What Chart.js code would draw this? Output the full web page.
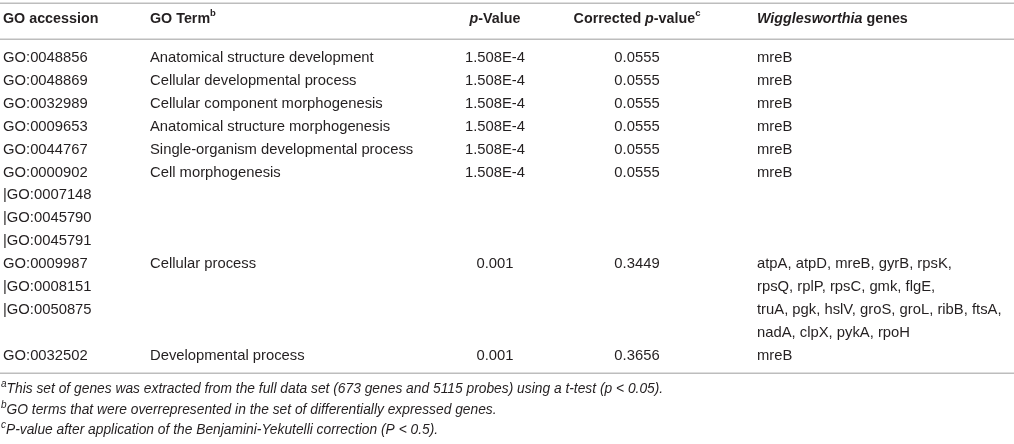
<!DOCTYPE html>
<html>
<head>
<meta charset="utf-8">
<script src="https://cdn.jsdelivr.net/npm/chart.js@4.4.1/dist/chart.umd.min.js"></script>
<style>
  html, body { margin: 0; padding: 0; background: #fff; }
  #wrap { width: 1014px; height: 444px; position: relative; }
</style>
</head>
<body>
<div id="wrap"><canvas id="table"></canvas></div>
<script>
// Table content, one entry per GO term
const accessions = [
  "GO:0048856",
  "GO:0048869",
  "GO:0032989",
  "GO:0009653",
  "GO:0044767",
  "GO:0000902|GO:0007148|GO:0045790|GO:0045791",
  "GO:0009987|GO:0008151|GO:0050875",
  "GO:0032502"
];
const goTerms = [
  "Anatomical structure development",
  "Cellular developmental process",
  "Cellular component morphogenesis",
  "Anatomical structure morphogenesis",
  "Single-organism developmental process",
  "Cell morphogenesis",
  "Cellular process",
  "Developmental process"
];
const pValues = ["1.508E-4", "1.508E-4", "1.508E-4", "1.508E-4", "1.508E-4", "1.508E-4", "0.001", "0.001"];
const correctedPValues = ["0.0555", "0.0555", "0.0555", "0.0555", "0.0555", "0.0555", "0.3449", "0.3656"];
const genes = [
  ["mreB"],
  ["mreB"],
  ["mreB"],
  ["mreB"],
  ["mreB"],
  ["mreB"],
  ["atpA, atpD, mreB, gyrB, rpsK,", "rpsQ, rplP, rpsC, gmk, flgE,", "truA, pgk, hslV, groS, groL, ribB, ftsA,", "nadA, clpX, pykA, rpoH"],
  ["mreB"]
];
const footnotes = [
  ["a", "This set of genes was extracted from the full data set (673 genes and 5115 probes) using a t-test (p < 0.05)."],
  ["b", "GO terms that were overrepresented in the set of differentially expressed genes."],
  ["c", "P-value after application of the Benjamini-Yekutelli correction (P < 0.5)."]
];

// Layout (x in pixels on the x scale, y in text-line units on the y scale)
const FONT = "'Liberation Sans', Arial, sans-serif";
const TEXT_COLOR = "#231f20";
const RULE_COLOR = "#bdbdbd";
const BODY_SIZE = 14.8, HEAD_SIZE = 14.3, NOTE_SIZE = 13.8;
const col = { acc: 3, term: 150, pHead: 495, pData: 495, cHead: 637, cData: 637, genes: 757 };
const Y_TOP_RULE = -2.42, Y_HEADER = -1.72, Y_HEAD_RULE = -0.81, Y_BOTTOM_RULE = 13.76;
const Y_FOOTNOTES = [14.45, 15.37, 16.24];

// Line index where each row starts
const rowStart = [];
let line = 0;
for (let i = 0; i < goTerms.length; i++) {
  rowStart.push(line);
  line += Math.max(accessions[i].split("|").length, genes[i].length);
}

// One invisible point per text line so every cell sits on the chart scales
function cellPoints(x, linesFor) {
  const pts = [];
  goTerms.forEach(function (_, i) {
    linesFor(i).forEach(function (txt, k) {
      pts.push({ x: x, y: rowStart[i] + k, text: txt });
    });
  });
  return pts;
}

const columns = [
  { key: "acc", align: "left", data: cellPoints(col.acc, function (i) {
      return accessions[i].split("|").map(function (a, k) { return k === 0 ? a : "|" + a; });
    }) },
  { key: "term", align: "left", data: cellPoints(col.term, function (i) { return [goTerms[i]]; }) },
  { key: "p", align: "center", data: cellPoints(col.pData, function (i) { return [pValues[i]]; }) },
  { key: "c", align: "center", data: cellPoints(col.cData, function (i) { return [correctedPValues[i]]; }) },
  { key: "genes", align: "left", data: cellPoints(col.genes, function (i) { return genes[i]; }) }
];

// Draw a run of styled text pieces
function drawRich(ctx, parts, x, y, align) {
  function fontOf(p) {
    return (p.italic ? "italic " : "") + (p.bold ? "bold " : "") + p.size + "px " + FONT;
  }
  let total = 0;
  parts.forEach(function (p) { ctx.font = fontOf(p); total += ctx.measureText(p.t).width; });
  let cx = align === "center" ? x - total / 2 : x;
  parts.forEach(function (p) {
    ctx.font = fontOf(p);
    ctx.fillText(p.t, cx, y - (p.rise || 0));
    cx += ctx.measureText(p.t).width;
  });
}

const tablePlugin = {
  id: "tablePlugin",
  afterDraw(chart) {
    const ctx = chart.ctx;
    const xs = chart.scales.x, ys = chart.scales.y;
    ctx.save();
    ctx.fillStyle = TEXT_COLOR;
    ctx.textBaseline = "middle";
    ctx.textAlign = "left";

    // rules
    ctx.strokeStyle = RULE_COLOR;
    ctx.lineWidth = 1.6;
    [Y_TOP_RULE, Y_HEAD_RULE, Y_BOTTOM_RULE].forEach(function (v) {
      const py = Math.round(ys.getPixelForValue(v)) + 0.25;
      ctx.beginPath();
      ctx.moveTo(xs.getPixelForValue(0), py);
      ctx.lineTo(xs.getPixelForValue(1014), py);
      ctx.stroke();
    });

    // header
    const hy = ys.getPixelForValue(Y_HEADER);
    const B = HEAD_SIZE, S = 9.5;
    drawRich(ctx, [{ t: "GO accession", bold: true, size: B }], xs.getPixelForValue(col.acc), hy, "left");
    drawRich(ctx, [{ t: "GO Term", bold: true, size: B }, { t: "b", bold: true, size: S, rise: 5 }], xs.getPixelForValue(col.term), hy, "left");
    drawRich(ctx, [{ t: "p", bold: true, italic: true, size: B }, { t: "-Value", bold: true, size: B }], xs.getPixelForValue(col.pHead), hy, "center");
    drawRich(ctx, [{ t: "Corrected ", bold: true, size: B }, { t: "p", bold: true, italic: true, size: B },
      { t: "-value", bold: true, size: B }, { t: "c", bold: true, size: S, rise: 5 }], xs.getPixelForValue(col.cHead), hy, "center");
    drawRich(ctx, [{ t: "Wigglesworthia", bold: true, italic: true, size: B }, { t: " genes", bold: true, size: B }],
      xs.getPixelForValue(col.genes), hy, "left");

    // body cells at their dataset points
    chart.data.datasets.forEach(function (ds, di) {
      const meta = chart.getDatasetMeta(di);
      meta.data.forEach(function (pt, k) {
        drawRich(ctx, [{ t: ds.data[k].text, size: BODY_SIZE }], pt.x, pt.y, ds.align);
      });
    });

    // footnotes
    footnotes.forEach(function (fn, i) {
      const fy = ys.getPixelForValue(Y_FOOTNOTES[i]);
      drawRich(ctx, [{ t: fn[0], italic: true, size: 10, rise: 5 }, { t: fn[1], italic: true, size: NOTE_SIZE }],
        xs.getPixelForValue(1), fy, "left");
    });
    ctx.restore();
  }
};

new Chart(document.getElementById("table"), {
  type: "scatter",
  data: {
    datasets: columns.map(function (c) {
      return { label: c.key, align: c.align, data: c.data, pointRadius: 0, pointHoverRadius: 0, showLine: false };
    })
  },
  options: {
    responsive: true,
    maintainAspectRatio: false,
    animation: false,
    events: [],
    layout: { padding: 0 },
    plugins: { legend: { display: false }, tooltip: { enabled: false } },
    scales: {
      x: { type: "linear", min: 0, max: 1014, display: false },
      y: { type: "linear", reverse: true, min: -2.533, max: 16.856, display: false }
    }
  },
  plugins: [tablePlugin]
});
</script>
</body>
</html>
